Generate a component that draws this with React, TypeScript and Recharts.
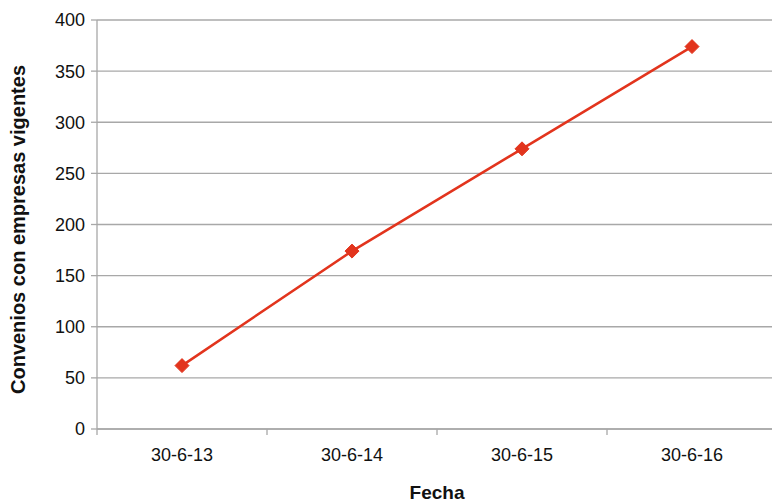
import React from "react";
import {
  CartesianGrid,
  Label,
  Line,
  LineChart,
  XAxis,
  YAxis,
} from "recharts";

const categories = ["30-6-13", "30-6-14", "30-6-15", "30-6-16"];
const convenios = [62, 174, 274, 374];
const yTicks = [0, 50, 100, 150, 200, 250, 300, 350, 400];

const FONT = "'Liberation Sans', Arial, Helvetica, sans-serif";
const GRID = "#a8a8a8";
const RED = "#e2341d";

// x positions: category i sits in the middle of band [i, i+1]
const data = categories.map((c, i) => ({ x: i + 0.5, label: c, value: convenios[i] }));
const xTicks: number[] = [];
for (let i = 0; i <= categories.length; i++) {
  xTicks.push(i);
  if (i < categories.length) xTicks.push(i + 0.5);
}

function XTick(props: any) {
  const { x, y, payload } = props;
  const v = payload.value as number;
  if (Number.isInteger(v)) {
    return <line x1={x} x2={x} y1={y} y2={y + 6} stroke={GRID} strokeWidth={1.3} />;
  }
  const label = categories[Math.floor(v)];
  return (
    <text x={x} y={y + 32} textAnchor="middle" fontSize={18} fill="#111" fontFamily={FONT}>
      {label}
    </text>
  );
}

function Diamond(props: any) {
  const { cx, cy } = props;
  if (cx == null || cy == null) return null;
  const r = 7;
  return (
    <path
      d={`M${cx},${cy - r}L${cx + r},${cy}L${cx},${cy + r}L${cx - r},${cy}Z`}
      fill={RED}
      stroke={RED}
    />
  );
}

function YTitle(props: any) {
  const vb = props.viewBox || {};
  const cy = (vb.y ?? 20) + (vb.height ?? 409) / 2 + 5;
  const cx = 25;
  return (
    <text
      x={cx}
      y={cy}
      transform={`rotate(-90, ${cx}, ${cy})`}
      textAnchor="middle"
      fontSize={20}
      fontWeight="bold"
      fill="#111"
      fontFamily={FONT}
    >
      Convenios con empresas vigentes
    </text>
  );
}

function XTitle(props: any) {
  const vb = props.viewBox || {};
  const cx = (vb.x ?? 97) + (vb.width ?? 680) / 2;
  return (
    <text x={cx} y={499} textAnchor="middle" fontSize={19} fontWeight="bold" fill="#111" fontFamily={FONT}>
      Fecha
    </text>
  );
}

export default function App() {
  return (
    <div style={{ width: 772, height: 502, overflow: "hidden", position: "relative" }}>
      <style>{"body{margin:0}"}</style>
      <LineChart
        width={780}
        height={502}
        data={data}
        margin={{ top: 20, right: 3, bottom: 0, left: 0 }}
      >
        <CartesianGrid vertical={false} stroke={GRID} strokeWidth={1.3} />
        <XAxis
          dataKey="x"
          type="number"
          domain={[0, categories.length]}
          ticks={xTicks}
          interval={0}
          tickLine={false}
          tickSize={0}
          tickMargin={0}
          axisLine={{ stroke: GRID, strokeWidth: 1.3 }}
          tick={<XTick />}
          height={73}
        >
          <Label content={<XTitle />} />
        </XAxis>
        <YAxis
          domain={[0, 400]}
          ticks={yTicks}
          interval={0}
          width={97}
          tickSize={6}
          tickMargin={6}
          tickLine={{ stroke: GRID, strokeWidth: 1.3 }}
          axisLine={{ stroke: GRID, strokeWidth: 1.3 }}
          tick={{ fill: "#111", fontSize: 18, fontFamily: FONT }}
        >
          <Label content={<YTitle />} />
        </YAxis>
        <Line
          dataKey="value"
          stroke={RED}
          strokeWidth={2.5}
          dot={<Diamond />}
          activeDot={false}
          isAnimationActive={false}
        />
      </LineChart>
    </div>
  );
}
